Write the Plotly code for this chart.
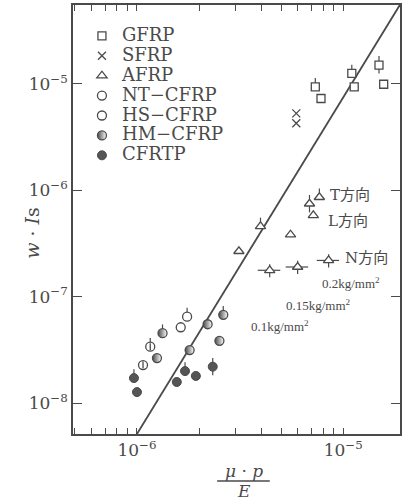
import numpy as np
import plotly.graph_objects as go

# ---- data ----
gfrp_x = [7.32e-6, 7.80e-6, 1.10e-5, 1.13e-5, 1.49e-5, 1.57e-5]
gfrp_y = [9.37e-6, 7.27e-6, 1.25e-5, 9.37e-6, 1.50e-5, 9.9e-6]
gfrp_err_up = [1.97e-6, 0, 2.6e-6, 0, 3.2e-6, 0]
gfrp_err_dn = [0, 0, 0, 0, 2.5e-6, 0]

sfrp_x = [5.92e-6, 5.92e-6]
sfrp_y = [5.27e-6, 4.25e-6]

afrp_x = [3.12e-6, 3.97e-6, 5.55e-6, 6.86e-6, 7.66e-6, 7.16e-6]
afrp_y = [2.67e-7, 4.57e-7, 3.82e-7, 7.46e-7, 8.59e-7, 5.80e-7]
afrp_err_up = [0, 0.96e-7, 0, 1.57e-7, 1.8e-7, 0]
afrp_err_dn = [0, 0, 0, 1.27e-7, 0, 0]

afrp_n_x = [4.40e-6, 6.01e-6, 8.49e-6]
afrp_n_y = [1.77e-7, 1.90e-7, 2.19e-7]
afrp_n_ex = [0.55e-6, 0.75e-6, 1.05e-6]
afrp_n_ey = [0.25e-7, 0.27e-7, 0.31e-7]

nt_x = [1.63e-6, 1.75e-6]
nt_y = [5.16e-8, 6.49e-8]
nt_err_up = [0, 1.36e-8]

hs_x = [1.07e-6, 1.16e-6]
hs_y = [2.28e-8, 3.39e-8]
hs_err_up = [0, 0.71e-8]

hm_x = [1.25e-6, 1.33e-6, 1.80e-6, 2.20e-6, 2.62e-6, 2.51e-6]
hm_y = [2.65e-8, 4.54e-8, 3.15e-8, 5.51e-8, 6.76e-8, 3.85e-8]
hm_err_up = [0, 0.95e-8, 0, 0, 1.42e-8, 0]

cfrtp_x = [9.67e-7, 1.0e-6, 1.56e-6, 1.71e-6, 1.93e-6, 2.33e-6]
cfrtp_y = [1.72e-8, 1.27e-8, 1.58e-8, 2.00e-8, 1.80e-8, 2.20e-8]
cfrtp_err_up = [0.36e-8, 0, 0, 0.42e-8, 0, 0.46e-8]
cfrtp_err_dn = [0, 0, 0, 0, 0, 0.37e-8]

line_x = [1.0e-6, 1.88e-5]
line_y = [5.13e-9, 5.50e-5]

xtick_major = [1e-6, 1e-5]
xtick_major_text = ["10<sup>−6</sup>", "10<sup>−5</sup>"]
ytick_vals = [1e-8, 1e-7, 1e-6, 1e-5]
ytick_text = ["10<sup>−8</sup>", "10<sup>−7</sup>", "10<sup>−6</sup>", "10<sup>−5</sup>"]

INK = "#4a4a4a"
SERIF = "DejaVu Serif"

# plot-area geometry (pixels) used to place text labels
W, H = 405, 501
L, R, T, B = 73, 3, 4, 67
PW, PH = W - L - R, H - T - B


def px(x):
    return (x - L) / PW


def py(y):
    return (H - B - y) / PH


def ebar(up, dn=None):
    d = dict(type="data", array=up, color=INK, thickness=1.2, width=0)
    if dn is not None:
        d["arrayminus"] = dn
        d["symmetric"] = False
    else:
        d["arrayminus"] = [0] * len(up)
        d["symmetric"] = False
    return d


fig = go.Figure()

fig.add_trace(go.Scatter(x=line_x, y=line_y, mode="lines",
                         line=dict(color=INK, width=1.8), showlegend=False, hoverinfo="skip"))

mk = dict(size=9, color="white", line=dict(color=INK, width=1.3))


def lg(name):
    return "<span style='font-size:18px'>" + name + "</span>"


fig.add_trace(go.Scatter(x=gfrp_x, y=gfrp_y, mode="markers", name=lg("GFRP"),
                         error_y=ebar(gfrp_err_up, gfrp_err_dn),
                         marker=dict(mk, symbol="square", size=8)))
fig.add_trace(go.Scatter(x=sfrp_x, y=sfrp_y, mode="markers", name=lg("SFRP"),
                         marker=dict(mk, symbol="x-thin-open", color=INK, size=8)))
fig.add_trace(go.Scatter(x=afrp_x, y=afrp_y, mode="markers", name=lg("AFRP"),
                         error_y=ebar(afrp_err_up, afrp_err_dn),
                         marker=dict(mk, symbol="triangle-up", size=9)))
fig.add_trace(go.Scatter(x=afrp_n_x, y=afrp_n_y, mode="markers", showlegend=False,
                         error_x=dict(type="data", array=afrp_n_ex, color=INK, thickness=1.2, width=0),
                         error_y=dict(type="data", array=afrp_n_ey, color=INK, thickness=1.2, width=0),
                         marker=dict(mk, symbol="triangle-up", size=9)))
fig.add_trace(go.Scatter(x=nt_x, y=nt_y, mode="markers", name=lg("NT−CFRP"),
                         error_y=ebar(nt_err_up),
                         marker=dict(mk, symbol="circle", size=9)))
fig.add_trace(go.Scatter(x=hs_x, y=hs_y, mode="markers", name=lg("HS−CFRP"), legendgroup="hs",
                         error_y=ebar(hs_err_up),
                         marker=dict(mk, symbol="circle", size=9)))
fig.add_trace(go.Scatter(x=hs_x, y=hs_y, mode="markers", showlegend=False, legendgroup="hs",
                         marker=dict(symbol="line-ns-open", size=5, color=INK,
                                     line=dict(color=INK, width=1.3))))
fig.add_trace(go.Scatter(x=hm_x, y=hm_y, mode="markers", name=lg("HM−CFRP"),
                         error_y=ebar(hm_err_up),
                         marker=dict(mk, symbol="circle", size=9, color=INK,
                                     gradient=dict(type="horizontal", color="white"))))
fig.add_trace(go.Scatter(x=cfrtp_x, y=cfrtp_y, mode="markers", name=lg("CFRTP"),
                         error_y=ebar(cfrtp_err_up, cfrtp_err_dn),
                         marker=dict(symbol="circle", size=9, color="#555555",
                                     line=dict(color=INK, width=1))))

axis_common = dict(type="log", showline=True, mirror="allticks", linecolor=INK, linewidth=1.5,
                   ticks="inside", tickcolor=INK, tickwidth=1.3, showgrid=False, zeroline=False,
                   tickfont=dict(family=SERIF, size=17, color=INK))

# x ticks: decades labelled, 2..9 multiples unlabelled
xtick_vals, xtick_text = [], []
for e in range(-7, -3):
    for k in range(1, 10):
        v = k * 10.0 ** e
        xtick_vals.append(v)
        if k == 1 and v in xtick_major:
            xtick_text.append(xtick_major_text[xtick_major.index(v)])
        else:
            xtick_text.append("")

fig.update_xaxes(**axis_common, range=[-6.31, -4.725], tickmode="array",
                 tickvals=xtick_vals, ticktext=xtick_text, ticklen=6)
fig.update_yaxes(**axis_common, range=[-8.29, -4.26], tickmode="array",
                 tickvals=ytick_vals, ticktext=ytick_text, ticklen=9)

fig.update_layout(
    width=W, height=H,
    margin=dict(l=L, r=R, t=T, b=B),
    paper_bgcolor="white", plot_bgcolor="white",
    showlegend=True,
    legend=dict(x=px(82), y=py(20), xanchor="left", yanchor="top",
                font=dict(family=SERIF, size=13, color=INK),
                bgcolor="rgba(0,0,0,0)", itemwidth=30, tracegroupgap=0),
)

ann_font = dict(family=SERIF, size=15, color=INK)
small_font = dict(family="Liberation Serif", size=13, color=INK)
cj = "<span style='font-family:Noto Sans CJK JP'>方向</span>"
anns = [
    (330, 193, "T" + cj, ann_font),
    (328, 219, "L" + cj, ann_font),
    (345, 256, "N" + cj, ann_font),
    (322, 283, "0.2kg/mm<sup>2</sup>", small_font),
    (285, 305, "0.15kg/mm<sup>2</sup>", small_font),
    (250, 326, "0.1kg/mm<sup>2</sup>", small_font),
]
for x, y, t, f in anns:
    fig.add_annotation(x=px(x), y=py(y), xref="paper", yref="paper",
                       xanchor="left", yanchor="middle", text=t, font=f, showarrow=False)

# axis titles
fig.add_annotation(x=px(19), y=py(232), xref="paper", yref="paper", textangle=-90,
                   text="<i>w</i> · <i>I</i>s", font=dict(family=SERIF, size=19, color=INK),
                   showarrow=False)
fig.add_annotation(x=px(245), y=py(471), xref="paper", yref="paper",
                   text="<i>μ</i> · <i>p</i>", font=dict(family=SERIF, size=17, color=INK),
                   showarrow=False, yanchor="middle")
fig.add_annotation(x=px(245), y=py(491), xref="paper", yref="paper",
                   text="<i>E</i>", font=dict(family=SERIF, size=17, color=INK),
                   showarrow=False, yanchor="middle")
fig.add_shape(type="line", xref="paper", yref="paper",
              x0=px(218), x1=px(271), y0=py(481), y1=py(481),
              line=dict(color=INK, width=1.5))

fig.write_html("out.html")
